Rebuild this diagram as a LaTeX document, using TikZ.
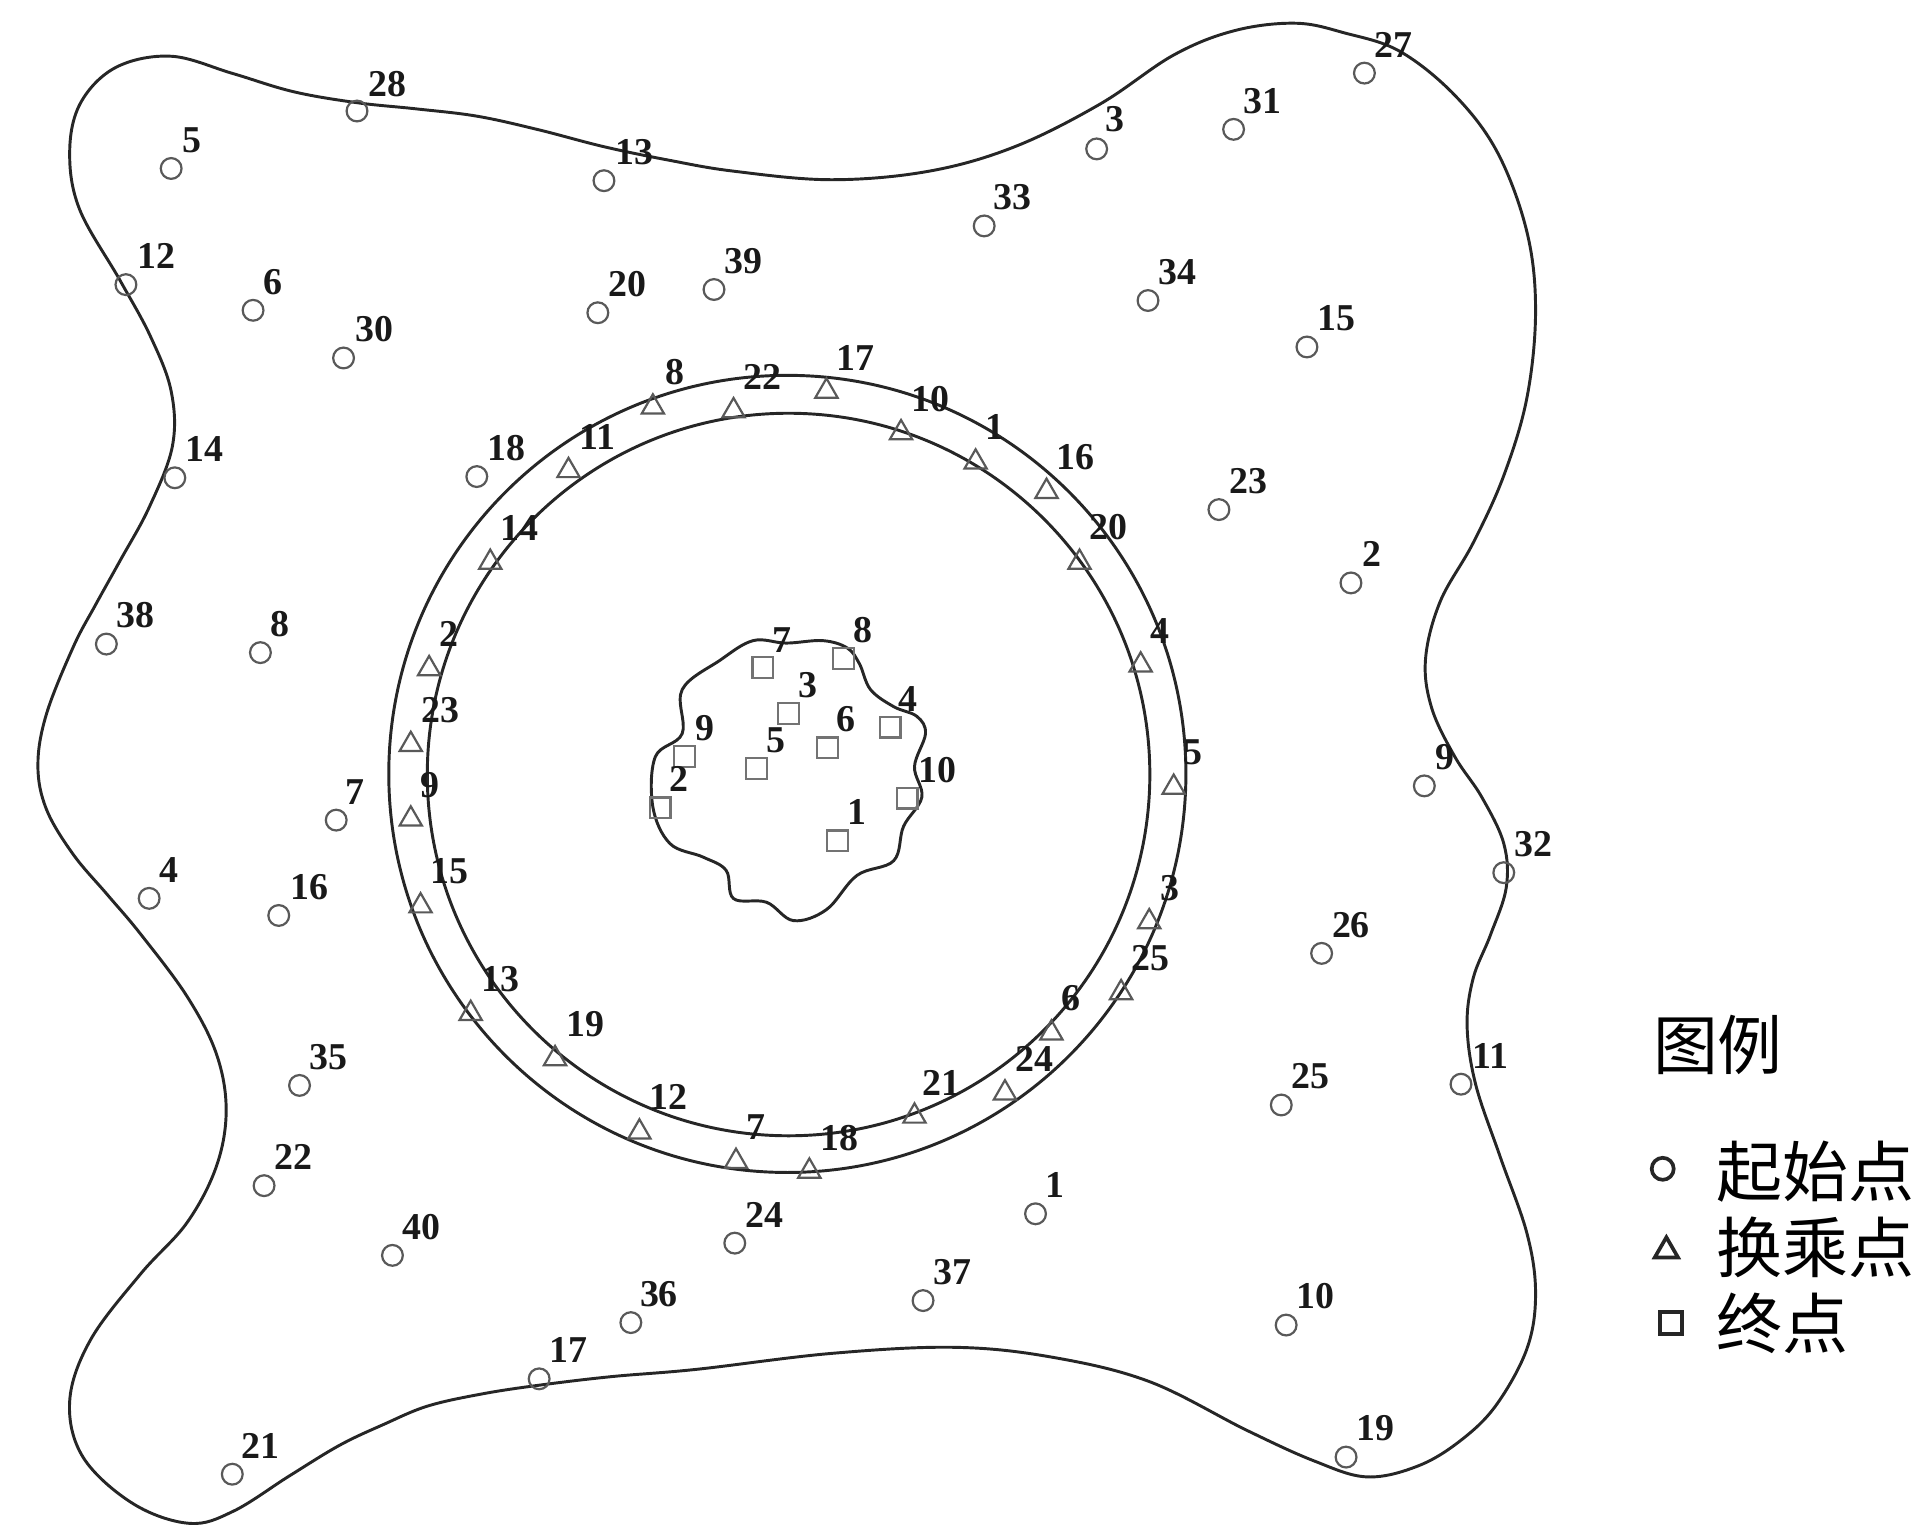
\documentclass[tikz,border=0pt]{standalone}
\usepackage{fontspec}
\setmainfont{Liberation Serif}
\newfontfamily\cjkfont{Noto Sans CJK SC}
\usetikzlibrary{shapes.geometric}
\begin{document}
\begin{tikzpicture}[x=1pt,y=-1pt,
		boundary/.style={line width=2.4pt,black!85},
		startpt/.style={draw=black!65,line width=1.8pt,circle,inner sep=0pt,minimum size=17pt,yshift=-0.8pt},
		transferpt/.style={draw=black!65,line width=1.8pt,regular polygon,regular polygon sides=3,inner sep=0pt,minimum size=21pt,yshift=-3pt},
		endpt/.style={draw=black!55,line width=1.8pt,rectangle,inner sep=0pt,minimum size=17pt,yshift=-0.8pt},
		idx/.style={font=\bfseries\fontsize{31}{31}\selectfont,inner sep=0pt,text=black!90,yshift=-0.5pt},
		legendtext/.style={font=\cjkfont\fontsize{54}{54}\selectfont,inner sep=0pt,anchor=west}]
	\useasboundingbox (0,0) rectangle (1568,1256);
	\draw[boundary] plot[smooth cycle,tension=0.6] coordinates {(57,124) (66,84) (95,55) (140,46) (190,60) (240,75) (292,84) (340,89) (390,95) (440,106) (494,120) (547,131) (600,140) (680,147) (760,140) (830,120) (900,85) (960,45) (1010,25) (1060,19) (1100,27) (1145,42) (1190,78) (1225,125) (1249,190) (1256,254) (1249,325) (1230,389) (1205,444) (1178,492) (1166,539) (1171,579) (1190,619) (1212,652) (1230,690) (1232,726) (1219,765) (1205,800) (1200,839) (1207,887) (1227,946) (1249,1009) (1256,1058) (1249,1103) (1224,1149) (1195,1178) (1160,1199) (1118,1208) (1075,1195) (1020,1170) (940,1130) (860,1110) (780,1102) (680,1107) (570,1120) (500,1126) (441,1133) (395,1140) (350,1150) (314,1165) (278,1182) (237,1207) (191,1236) (155,1246) (109,1230) (68,1192) (57,1146) (74,1096) (115,1042) (153,1000) (177,954) (185,908) (177,862) (153,815) (115,764) (88,732) (60,699) (38,662) (31,626) (38,584) (60,529) (78,495) (98,459) (122,415) (141,365) (140,320) (123,275) (98,229) (65,171)};
	\draw[boundary] (644,633) circle (326);
	\draw[boundary] (645,633.5) circle (295.5);
	\draw[boundary] plot[smooth cycle,tension=0.6] coordinates {(616,524) (643,526) (673,524) (693,530) (703,543) (712,564) (731,578) (750,586) (757,600) (748,627) (754,652) (739,676) (731,704) (701,716) (676,744) (649,753) (627,738) (600,735) (594,712) (575,701) (548,690) (534,660) (536,619) (558,600) (558,564) (589,540)};
	\foreach \px/\py/\lx/\ly/\t in {292/90/317/68/28,140/137/157/114/5,494/147/519/124/13,897/121/912/97/3,1116/59/1140/36/27,1009/105/1033/82/31,805/184/828/161/33,103/232/128/209/12,207/253/223/230/6,281/292/306/269/30,489/255/513/232/20,584/236/608/213/39,939/245/963/222/34,1069/283/1093/260/15,143/390/167/367/14,390/389/414/366/18,997/416/1021/393/23,1105/476/1122/453/2,87/526/111/503/38,213/533/229/510/8,1165/642/1182/619/9,1230/713/1254/690/32,275/670/290/647/7,122/734/138/711/4,228/748/253/725/16,1081/779/1105/756/26,245/887/269/864/35,1195/886/1219/863/11,1048/903/1072/880/25,216/969/240/946/22,847/992/863/969/1,321/1026/345/1003/40,601/1016/625/993/24,516/1081/539/1058/36,755/1063/779/1040/37,1052/1083/1076/1060/10,441/1127/465/1104/17,190/1205/213/1182/21,1101/1191/1125/1168/19}{
		\node[startpt] (start\t) at (\px,\py) {};
		\node[idx] (startlabel\t) at (\lx,\ly) {\t};
	}
	\foreach \px/\py/\lx/\ly/\t in {534/330/552/304/8,600/333/624/308/22,676/317/700/292/17,737/351/761/326/10,798/375/814/349/1,856/399/880/373/16,465/382/489/357/11,401/457/425/431/14,883/457/907/431/20,351/544/367/518/2,933/541/949/516/4,336/606/360/580/23,960/641/976/615/5,336/667/352/642/9,344/738/368/712/15,940/751/957/726/3,917/809/941/783/25,860/842/876/816/6,385/826/409/800/13,454/863/479/837/19,822/891/846/866/24,748/910/770/885/21,523/923/547/897/12,602/947/618/921/7,662/955/687/930/18}{
		\node[transferpt] (transfer\t) at (\px,\py) {};
		\node[idx] (transferlabel\t) at (\lx,\ly) {\t};
	}
	\foreach \px/\py/\lx/\ly/\t in {624/545/640/523/7,690/538/706/515/8,645/583/661/560/3,728/594/743/571/4,677/611/692/588/6,619/628/635/605/5,560/618/577/595/9,540/660/555/637/2,742/652/767/629/10,685/687/701/664/1}{
		\node[endpt] (end\t) at (\px,\py) {};
		\node[idx] (endlabel\t) at (\lx,\ly) {\t};
	}
	\node[font=\cjkfont\fontsize{53}{53}\selectfont,inner sep=0pt,anchor=west] (legendtitle) at (1352,855) {图例};
	\node[draw=black!85,line width=3pt,circle,inner sep=0pt,minimum size=18pt] (legendstart) at (1360,956) {};
	\node[legendtext] (legendstarttext) at (1404,958) {起始点};
	\node[draw=black!85,line width=3pt,regular polygon,regular polygon sides=3,inner sep=0pt,minimum size=22pt,yshift=-3pt] (legendtransfer) at (1363,1020) {};
	\node[legendtext] (legendtransfertext) at (1404,1020) {换乘点};
	\node[draw=black!85,line width=3.5pt,rectangle,inner sep=0pt,minimum size=18pt] (legendend) at (1367,1082) {};
	\node[legendtext] (legendendtext) at (1404,1082) {终点};
\end{tikzpicture}
\end{document}
